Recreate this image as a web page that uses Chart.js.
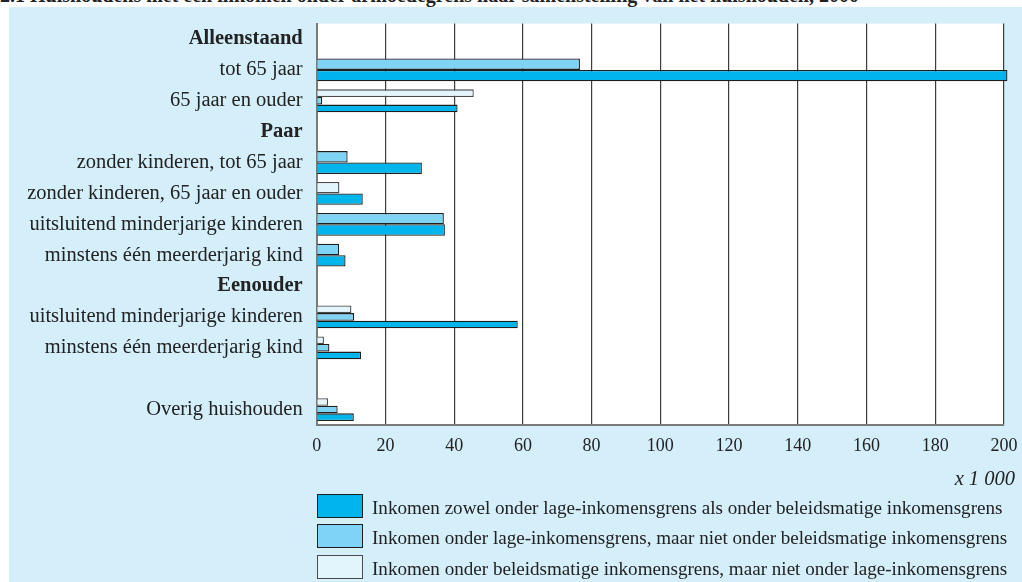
<!DOCTYPE html>
<html><head><meta charset="utf-8">
<script src="https://cdn.jsdelivr.net/npm/chart.js@4"></script>
<style>
html,body{margin:0;padding:0;background:#fff;width:1022px;height:582px;overflow:hidden;}
#bg{position:absolute;left:9px;top:7px;width:1013px;height:575px;background:#d4eefa;}
#title{position:absolute;left:0;top:-15px;font:bold 20px/20px "Liberation Serif",serif;color:#222;white-space:nowrap;}
#wrap{position:absolute;left:0;top:0;width:1022px;height:582px;}
.unit{position:absolute;right:7px;top:467px;font:italic 20.5px "Liberation Serif",serif;color:#222;}
.leg{position:absolute;left:317px;width:44px;height:22px;border:1px solid #222;box-sizing:content-box;}
.legt{position:absolute;left:372px;font:19.1px "Liberation Serif",serif;color:#222;white-space:nowrap;}
</style></head>
<body>
<div id="bg"></div>
<div id="title">2.1 Huishoudens met een inkomen onder armoedegrens naar samenstelling van het huishouden, 2000</div>
<div id="wrap"><canvas id="c" width="1022" height="582"></canvas></div>
<div class="unit">x 1 000</div>
<div id="legend"></div>
<script>
const categories = ['Alleenstaand','tot 65 jaar','65 jaar en ouder','Paar','zonder kinderen, tot 65 jaar','zonder kinderen, 65 jaar en ouder','uitsluitend minderjarige kinderen','minstens één meerderjarig kind','Eenouder','uitsluitend minderjarige kinderen','minstens één meerderjarig kind','','Overig huishouden'];
const headers = ['Alleenstaand','Paar','Eenouder'];
const seriesNames = ['Inkomen zowel onder lage-inkomensgrens als onder beleidsmatige inkomensgrens','Inkomen onder lage-inkomensgrens, maar niet onder beleidsmatige inkomensgrens','Inkomen onder beleidsmatige inkomensgrens, maar niet onder lage-inkomensgrens'];
const both   = [null,201,41,null,30.6,13.4,37.3,8.4,null,58.5,12.9,null,10.8];
const lageOnly = [null,76.6,1.6,null,9.0,null,37.0,6.5,null,10.9,3.7,null,6.1];
const beleidOnly = [null,null,45.7,null,null,6.6,null,null,null,10.1,2.1,null,3.3];
const xTicks = [0,20,40,60,80,100,120,140,160,180,200];
const colors = ['#00b4ec','#7fd3f5','#e2f4fc'];
const borders = ['#1e1e1e','#1e1e1e','#4a4a4a'];

const legTop = [494,524,555];
const lg = document.getElementById('legend');
seriesNames.forEach((n,i)=>{
  const b=document.createElement('div');b.className='leg';b.style.top=legTop[i]+'px';b.style.background=colors[i];b.style.borderColor=borders[i];lg.appendChild(b);
  const t=document.createElement('div');t.className='legt';t.style.top=(legTop[i]+3)+'px';t.textContent=n;lg.appendChild(t);
});

const whiteArea = {id:'whiteArea',beforeDraw(chart){const a=chart.chartArea,ctx=chart.ctx;ctx.save();ctx.fillStyle='#fff';ctx.fillRect(a.left,a.top,a.right-a.left,a.bottom-a.top);ctx.restore();}};

new Chart(document.getElementById('c'),{
  type:'bar',
  data:{labels:categories,datasets:[
    {label:seriesNames[2],data:beleidOnly,backgroundColor:colors[2],borderColor:borders[2],borderWidth:1.3},
    {label:seriesNames[1],data:lageOnly,backgroundColor:colors[1],borderColor:borders[1],borderWidth:1.3},
    {label:seriesNames[0],data:both,backgroundColor:colors[0],borderColor:borders[0],borderWidth:1.3,clip:6}
  ]},
  options:{
    indexAxis:'y',responsive:false,animation:false,
    datasets:{bar:{categoryPercentage:0.74,barPercentage:1.0,grouped:true,skipNull:true}},
    layout:{padding:{left:0,right:18,top:23.6,bottom:0}},
    plugins:{legend:{display:false},tooltip:{enabled:false}},
    scales:{
      x:{min:0,max:200,afterFit(s){s.height=157;s.paddingLeft=0;s.paddingRight=0;},
        afterBuildTicks(s){s.ticks=xTicks.map(v=>({value:v}));},
        grid:{color:'#3c3c3c',lineWidth:1.2,drawTicks:false},
        border:{display:true,color:'#7a7a7a',width:2},
        ticks:{padding:10,color:'#222',font:{family:'"Liberation Serif", serif',size:18}}},
      y:{afterFit(s){s.width=316.7;s.paddingTop=0;s.paddingBottom=0;},
        grid:{display:false,drawTicks:false},
        border:{display:true,color:'#7a7a7a',width:2},
        ticks:{padding:14,color:'#222',autoSkip:false,
          font:(ctx)=>({family:'"Liberation Serif", serif',size:20.5,weight:headers.includes(categories[ctx.index])?'bold':'normal'})}}
    }
  },
  plugins:[whiteArea]
});
</script>
</body></html>
